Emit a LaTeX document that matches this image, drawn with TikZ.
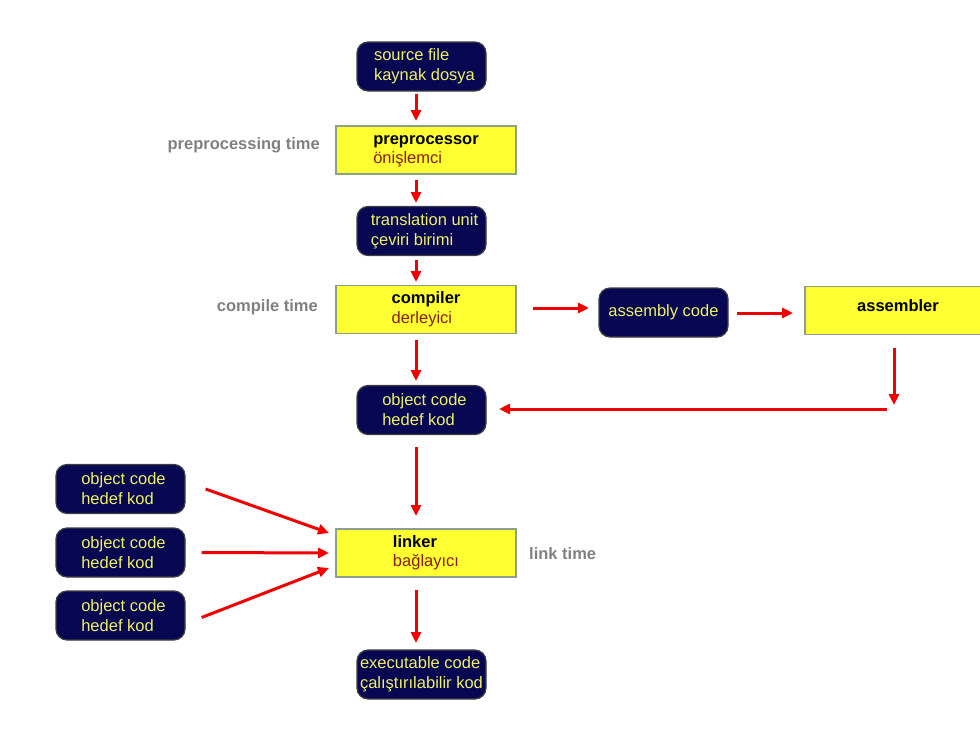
\documentclass[tikz,border=0pt]{standalone}
\usepackage{fontspec}
\setmainfont{Liberation Sans}
\usetikzlibrary{arrows.meta}
\definecolor{navy}{RGB}{8,8,82}
\definecolor{boxtext}{RGB}{240,240,100}
\definecolor{stagefill}{RGB}{255,255,50}
\definecolor{stageedge}{RGB}{140,160,140}
\definecolor{trtext}{RGB}{140,30,0}
\definecolor{timegray}{RGB}{128,128,128}
\definecolor{flowred}{RGB}{240,0,0}
\begin{document}
\begin{tikzpicture}[x=1pt,y=-1pt,
  every node/.style={font=\fontsize{16.5}{20}\selectfont, inner sep=0pt},
  codebox/.style={fill=navy, draw=black!75, line width=1.2pt, rounded corners=11pt,
    minimum width=129pt, minimum height=49pt, align=left, text=boxtext},
  stagebox/.style={fill=stagefill, draw=stageedge, line width=1.5pt,
    minimum width=180pt, minimum height=48pt, align=left},
  timelabel/.style={text=timegray, font=\fontsize{16.5}{20}\selectfont\bfseries},
  flow/.style={draw=flowred, line width=3pt, -{Triangle[length=11pt,width=10pt]}}
]
\useasboundingbox (0,0) rectangle (980,744);
\clip (0,0) rectangle (980,744);
\fill[white] (0,0) rectangle (980,744);

% main column
\node[codebox] (src) at (421.5,66.5) {\hspace*{6pt}source file\\\hspace*{6pt}kaynak dosya};
\node[stagebox] (pre) at (426,150) {\raisebox{-4pt}{\begin{tabular}{@{}l@{}}\textbf{preprocessor}\\[-1pt]\textcolor{trtext}{önişlemci}\end{tabular}}};
\node[codebox] (tu) at (421.5,231) {\hspace*{6pt}translation unit\\\hspace*{6pt}çeviri birimi};
\node[stagebox] (cc) at (426,309.5) {\textbf{compiler}\\\textcolor{trtext}{derleyici}};
\node[codebox] (obj) at (421.5,410) {\hspace*{6pt}object code\\\hspace*{6pt}hedef kod};
\node[stagebox] (ld) at (426,553) {\raisebox{2pt}{\begin{tabular}{@{}l@{}}\textbf{linker}\\[-1pt]\textcolor{trtext}{bağlayıcı}\end{tabular}}};
\node[codebox] (exe) at (421.5,674.5) {executable code\\çalıştırılabilir kod};

% assembly branch
\node[codebox] (asm) at (663.5,312.5) {assembly code};
\node[stagebox, minimum width=200pt, align=center] (as) at (905,310.5) {};
\node[font=\fontsize{16.5}{20}\selectfont\bfseries] (astext) at (898,306) {assembler};

% extra object files
\node[codebox] (o1) at (120.5,489) {\hspace*{6pt}object code\\\hspace*{6pt}hedef kod};
\node[codebox] (o2) at (120.5,552.5) {\hspace*{6pt}object code\\\hspace*{6pt}hedef kod};
\node[codebox] (o3) at (120.5,615.5) {\hspace*{6pt}object code\\\hspace*{6pt}hedef kod};

% phase labels
\node[timelabel, anchor=east] (tpre) at (320,145) {preprocessing time};
\node[timelabel, anchor=east] (tcc) at (318,307) {compile time};
\node[timelabel, anchor=west] (tld) at (529,554) {link time};

% connectors
\coordinate (asdown) at (894,348);
\coordinate (asturn) at (887,409);
\draw[flow] (src.south -| 416,0) ++(0,2) -- (416,121);
\draw[flow] (416,180) -- (416,203);
\draw[flow] (416,260) -- (416,282);
\draw[flow] (533,308) -- (589,308);
\draw[flow] (737,313) -- (793,313);
\draw[flow] (asdown) -- (894,405);
\draw[flow] (asturn) -- (499,409);
\draw[flow] (416,340) -- (416,381);
\draw[flow] (416,447) -- (416,516);
\draw[flow] (o1.east) ++(20,0) -- (329,533);
\draw[flow] (o2.east) ++(16,0) -- (329,553);
\draw[flow] (o3.east) ++(16,2) -- (329,568);
\draw[flow] (416,590) -- (416,643);
\end{tikzpicture}
\end{document}
